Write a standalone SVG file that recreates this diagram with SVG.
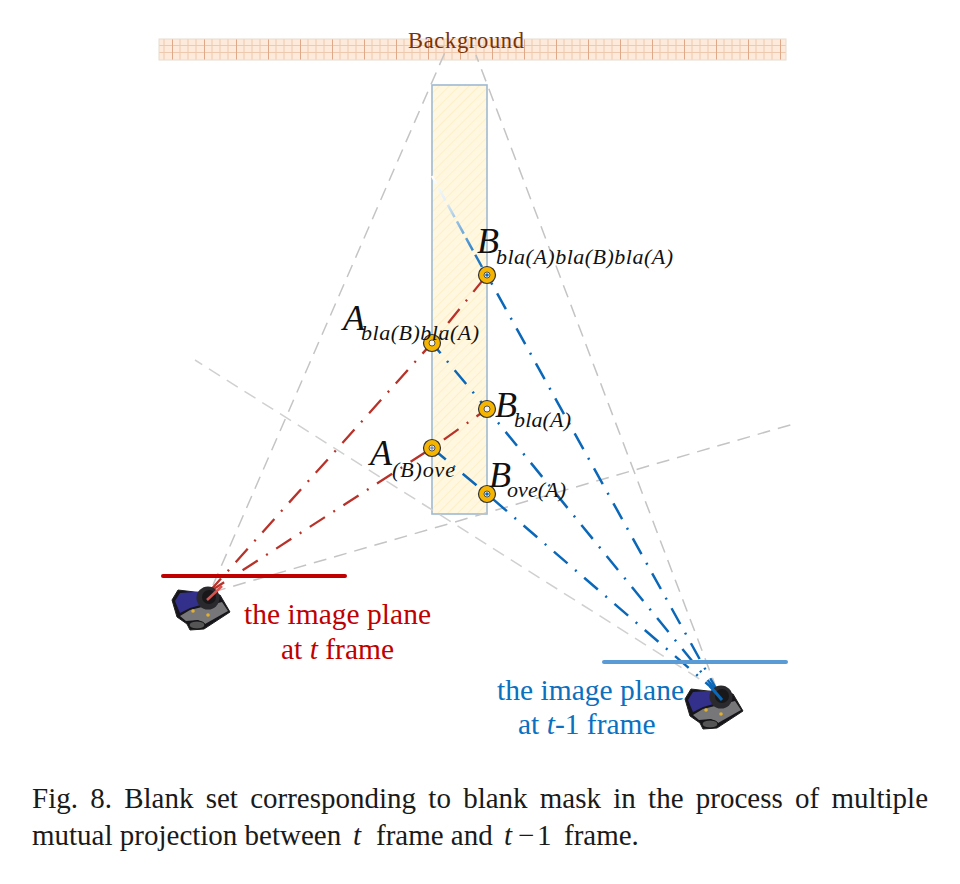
<svg xmlns="http://www.w3.org/2000/svg" width="960" height="884" viewBox="0 0 960 884">
<style>
text{font-family:"Liberation Serif","Times New Roman",serif;fill:#111}
.big{font-size:36px;font-style:italic}
.sub{font-size:22px;font-style:italic}
.gray{stroke:#c4c4c4;stroke-width:1.500;stroke-dasharray:13 8;fill:none}
.red{stroke:#b8322a;stroke-width:2.300;stroke-dasharray:18 10 2 10;fill:none}
.blue{stroke:#0b68b8;stroke-width:2.500;stroke-dasharray:18 10 2 10;fill:none}
.r{fill:#c00000;font-size:29.500px}
.b{fill:#0b70c0;font-size:29.500px}
.cap{font-size:29px;fill:#1a1a1a}
</style>
<defs>
<linearGradient id="fade" gradientUnits="userSpaceOnUse" x1="432" y1="176" x2="476" y2="256">
<stop offset="0" stop-color="#ffffff"/><stop offset="0.3" stop-color="#e4eff8"/><stop offset="1" stop-color="#1f78c4"/>
</linearGradient>
<pattern id="grid" width="32" height="21" patternUnits="userSpaceOnUse" x="140" y="39">
<rect width="32" height="21" fill="#fdeadb"/>
<path d="M8 0V21M16 0V21M24 0V21M0 6.500H32M0 13.500H32" stroke="#eec9b0" stroke-width="1" fill="none"/>
<path d="M0.500 0V21" stroke="#dfa888" stroke-width="1"/>
</pattern>
<pattern id="hatch" width="7" height="7" patternUnits="userSpaceOnUse" patternTransform="rotate(45)">
<rect width="7" height="7" fill="#fff7e0"/>
<path d="M0 0V7" stroke="#fdeebf" stroke-width="1.500"/>
</pattern>
<g id="cam">
<path d="M178 590L172 600L177 617L187 624L190 630L204 629L230 612L220 595Z" fill="#15151a" stroke="#222" stroke-width="1"/>
<path d="M180 593L175 601L180 613L190 608L218 600L207 591Z" fill="#33308c"/>
<path d="M180 616L190 610L222 602L228 611L205 624L198 620L186 621Z" fill="#77777a"/>
<ellipse cx="197" cy="625" rx="8" ry="4" fill="#555" stroke="#111"/>
<circle cx="208" cy="598" r="11.500" fill="#2a2a2e"/>
<circle cx="209" cy="597" r="7" fill="#18181a"/>
<circle cx="193" cy="611" r="1.800" fill="#e0b030"/>
<circle cx="208" cy="615" r="1.800" fill="#e0b030"/>
</g>
<g id="pt">
<circle r="8.500" fill="#f5b400" stroke="#333" stroke-width="1.200"/>
<circle r="3" fill="#f4f4f4" stroke="#333" stroke-width="0.800"/>
</g>
</defs>
<g id="background-band">
<rect x="159" y="39" width="627" height="21" fill="url(#grid)" stroke="#e8dcd2" stroke-width="1"/>
<text x="408" y="48" font-size="22.500" style="fill:#7a3208" textLength="116">Background</text>
</g>
<g id="blank-mask">
<rect x="432" y="85" width="55" height="429" fill="url(#hatch)" stroke="#9fbad0" stroke-width="1.600"/>
</g>
<g id="connectors">
<path class="gray" d="M213 585L446 50"/>
<path class="gray" d="M717 690L476 55"/>
<path class="gray" style="stroke:#d0d0d0" d="M717 690L195 360"/>
<path class="gray" d="M213 592L797 423"/>
<path class="red" d="M209 592L432 343L487 275"/>
<path class="red" d="M209 592L432 448L487 409"/>
<path class="blue" d="M719 694L487 494L432 448"/>
<path class="blue" d="M719 694L487 409L432 343"/>
<path class="blue" d="M719 694L487 275"/>
<path class="blue" style="stroke:url(#fade);stroke-dasharray:14 5" d="M482 267L432 176"/>
</g>
<g id="camera-t"><use href="#cam"/><path d="M207 600L222 586" stroke="#d9534f" stroke-width="2.500"/></g>
<g id="camera-t1"><use href="#cam" x="513" y="99"/><path d="M722 700L710 686" stroke="#0b68b8" stroke-width="3"/></g>
<g id="plane-t"><path d="M163 576H345" stroke="#c00000" stroke-width="4" stroke-linecap="round"/>
<text class="r" x="244" y="624" textLength="187">the image plane</text>
<text class="r" x="281" y="659">at <tspan font-style="italic">t</tspan> frame</text></g>
<g id="plane-t1"><path d="M604 662H786" stroke="#5b9bd5" stroke-width="4" stroke-linecap="round"/>
<text class="b" x="497" y="700" textLength="187">the image plane</text>
<text class="b" x="518" y="734">at <tspan font-style="italic">t</tspan>-1 frame</text></g>
<g id="node-b3"><use href="#pt" x="487" y="275"/><circle cx="487" cy="275" r="1.800" fill="#0b68b8"/>
<text class="big" x="477" y="253">B</text><text class="sub" x="496" y="264" textLength="177">bla(A)bla(B)bla(A)</text></g>
<g id="node-a2"><use href="#pt" x="432" y="343"/>
<text class="big" x="343" y="330">A</text><text class="sub" x="361" y="340" textLength="118">bla(B)bla(A)</text></g>
<g id="node-b2"><use href="#pt" x="487" y="409"/>
<text class="big" x="495" y="417">B</text><text class="sub" x="514" y="427" textLength="57">bla(A)</text></g>
<g id="node-a1"><use href="#pt" x="432" y="448"/><circle cx="432" cy="448" r="1.800" fill="#7a8fb8"/>
<text class="big" x="370" y="465">A</text><text class="sub" x="392" y="477" textLength="63">(B)ove</text></g>
<g id="node-b1"><use href="#pt" x="487" y="494"/><circle cx="487" cy="494" r="1.800" fill="#0b68b8"/>
<text class="big" x="489" y="487">B</text><text class="sub" x="507" y="497" textLength="59">ove(A)</text></g>
<g id="caption">
<text class="cap" x="32" y="808" word-spacing="5">Fig. 8. Blank set corresponding to blank mask in the process of multiple</text>
<text class="cap" x="32" y="845">mutual projection between<tspan x="353" font-style="italic">t</tspan><tspan x="376">frame and</tspan><tspan x="504" font-style="italic">t</tspan><tspan x="518">−</tspan><tspan x="537">1</tspan><tspan x="564">frame.</tspan></text>
</g>
</svg>
